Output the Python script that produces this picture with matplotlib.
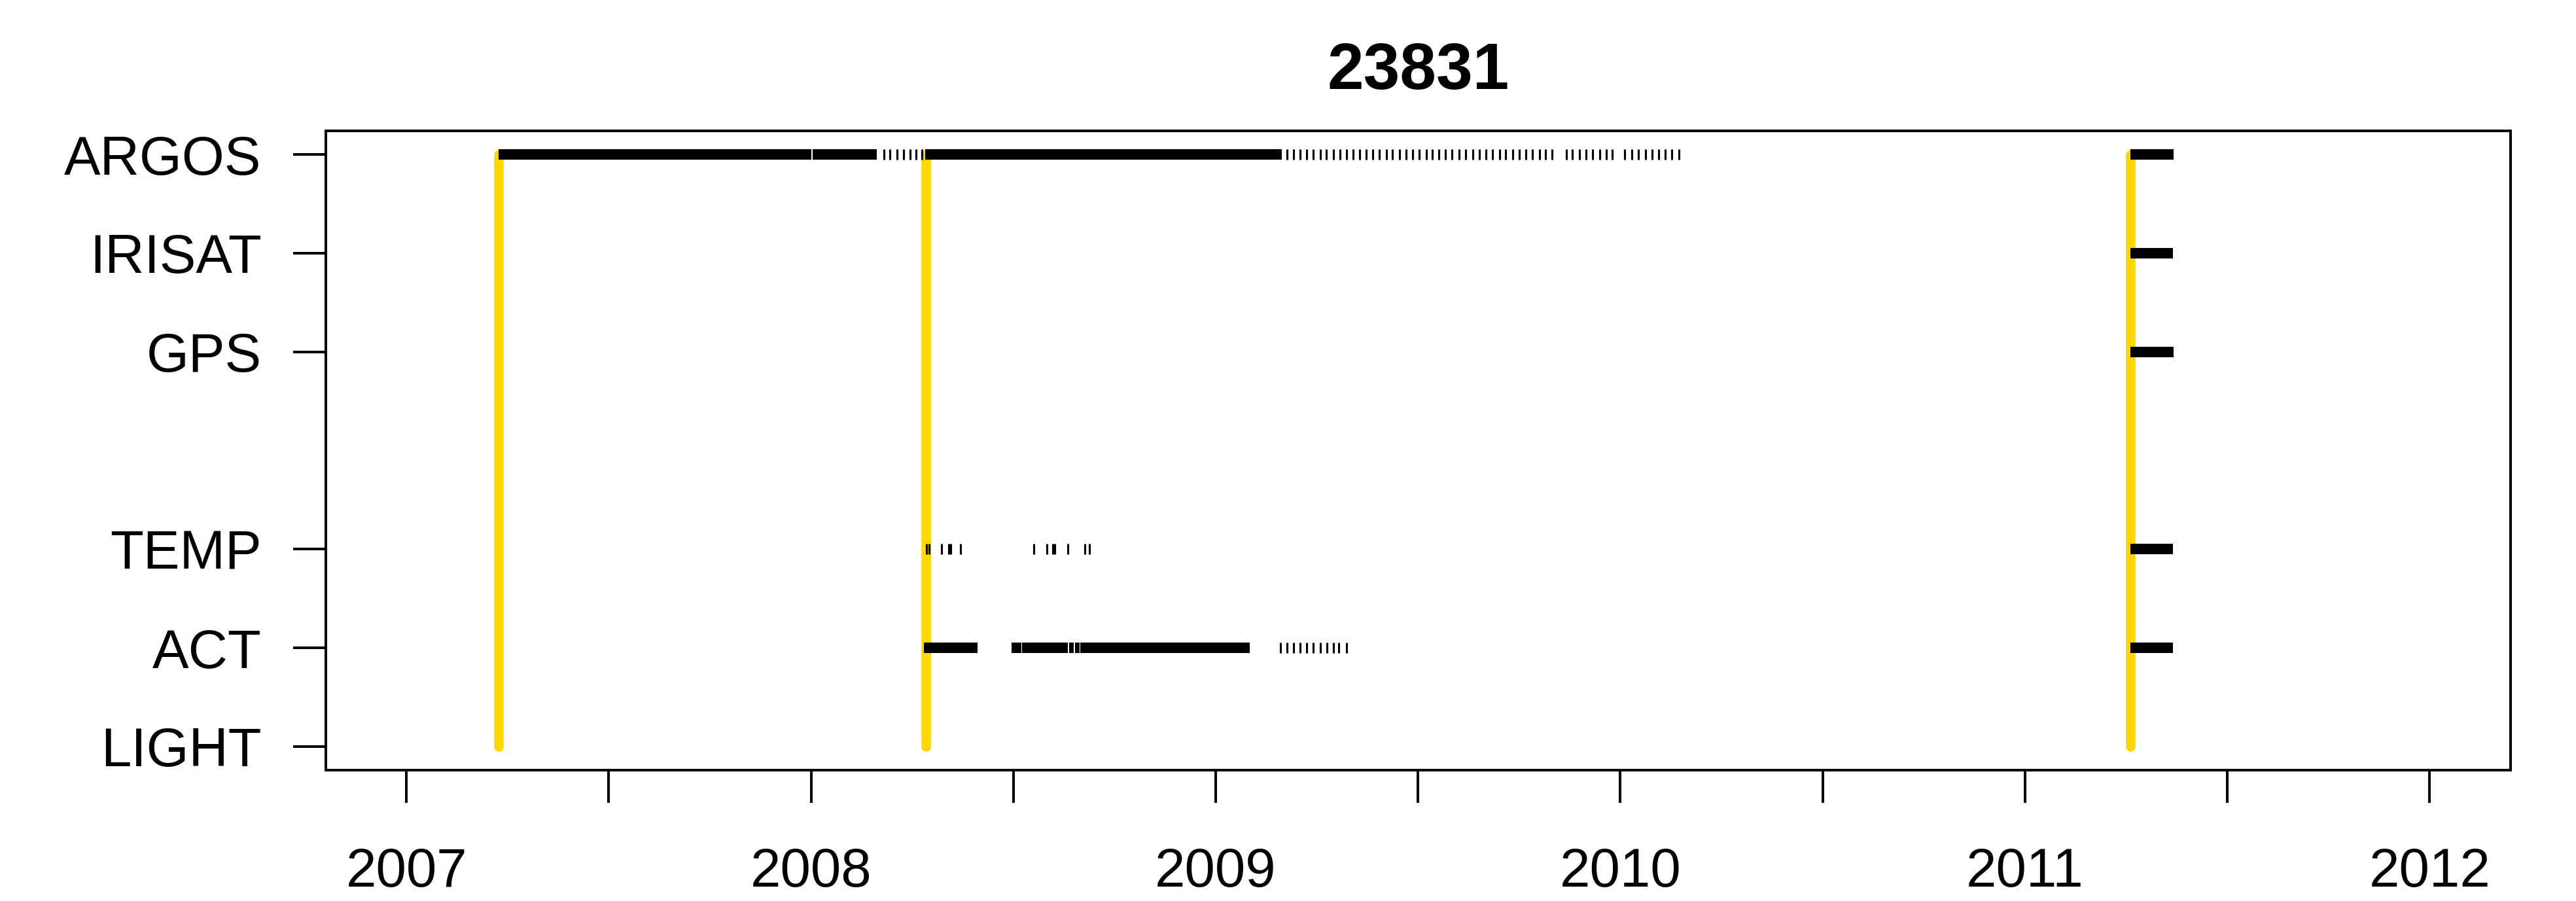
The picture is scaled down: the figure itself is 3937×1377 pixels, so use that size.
import numpy as np
import matplotlib.pyplot as plt
from matplotlib.ticker import MultipleLocator

plt.rcParams["font.family"] = ["Liberation Sans", "DejaVu Sans"]

TITLE = "23831"
YEARS = [2007, 2008, 2009, 2010, 2011, 2012]

# sensor rows, bottom to top (row 4 is left empty)
CATEGORIES = ["LIGHT", "ACT", "TEMP", "GPS", "IRISAT", "ARGOS"]
ROWS = [1, 2, 3, 5, 6, 7]

# deployment dates (decimal years)
deploy_dates = [2007.228, 2008.283, 2011.261]

# continuous coverage (start, end) and single transmissions, per sensor
argos_spans = [(2007.228, 2008.001), (2008.004, 2008.163),
               (2008.282, 2009.163), (2011.261, 2011.368)]
argos_fixes = [2008.180, 2008.195, 2008.212, 2008.228, 2008.245, 2008.260, 2008.274,
               2009.176, 2009.193, 2009.208, 2009.225, 2009.241, 2009.258, 2009.274,
               2009.291, 2009.307, 2009.324, 2009.339, 2009.356, 2009.372, 2009.388,
               2009.404, 2009.422, 2009.437, 2009.455, 2009.470, 2009.487, 2009.503,
               2009.520, 2009.535, 2009.552, 2009.568, 2009.584, 2009.601, 2009.617,
               2009.635, 2009.651, 2009.668, 2009.684, 2009.701, 2009.717, 2009.734,
               2009.750, 2009.767, 2009.783, 2009.800, 2009.815, 2009.831,
               2009.867, 2009.882, 2009.899, 2009.915, 2009.932, 2009.949, 2009.965,
               2009.980,
               2010.011, 2010.029, 2010.045, 2010.062, 2010.078, 2010.095, 2010.111,
               2010.127, 2010.145]
irisat_spans = [(2011.261, 2011.366)]
gps_spans = [(2011.261, 2011.368)]
temp_spans = [(2011.261, 2011.366)]
temp_fixes = [2008.286, 2008.292, 2008.322, 2008.341, 2008.345, 2008.369,
              2008.551, 2008.582, 2008.598, 2008.602, 2008.635, 2008.677, 2008.688]
act_spans = [(2008.279, 2008.412), (2008.496, 2008.519), (2008.522, 2008.635),
             (2008.638, 2008.649), (2008.652, 2008.663), (2008.666, 2009.084),
             (2011.261, 2011.366)]
act_fixes = [2009.160, 2009.176, 2009.193, 2009.208, 2009.225, 2009.241,
             2009.258, 2009.275, 2009.291, 2009.304, 2009.324]

SENSOR_DATA = {
    "ARGOS": (argos_spans, argos_fixes),
    "IRISAT": (irisat_spans, []),
    "GPS": (gps_spans, []),
    "TEMP": (temp_spans, temp_fixes),
    "ACT": (act_spans, act_fixes),
    "LIGHT": ([], []),
}

BAR_LW = 3.85      # points, height of the coverage bars
AXIS_LW = 0.96

fig = plt.figure(figsize=(3937 / 300, 1377 / 300), dpi=300)
ax = fig.add_axes([497.5 / 3937, 1 - 1177 / 1377,
                   (3837 - 497.5) / 3937, (1177 - 200) / 1377])

row_of = dict(zip(CATEGORIES, ROWS))

ax.vlines(deploy_dates, row_of["LIGHT"], row_of["ARGOS"], color="#FFD700",
          linewidth=3.5, capstyle="round", zorder=2)

for name, (spans, fixes) in SENSOR_DATA.items():
    y = row_of[name]
    if spans:
        starts = [s for s, _ in spans]
        ends = [e for _, e in spans]
        ax.hlines([y] * len(spans), starts, ends, color="black",
                  linewidth=BAR_LW, capstyle="butt", zorder=3)
    if fixes:
        ax.plot(fixes, [y] * len(fixes), linestyle="none", marker="|",
                markersize=BAR_LW, markeredgewidth=0.75, color="black", zorder=3)

ax.set_xlim(2006.8, 2012.2)
ax.set_ylim(0.76, 7.24)

ax.set_xticks(YEARS)
ax.set_xticklabels([str(y) for y in YEARS])
ax.xaxis.set_minor_locator(MultipleLocator(0.5))
ax.set_yticks(ROWS)
ax.set_yticklabels(CATEGORIES)

for spine in ax.spines.values():
    spine.set_linewidth(AXIS_LW)
ax.tick_params(axis="both", which="both", direction="out", length=12,
               width=AXIS_LW, labelsize=20)
ax.tick_params(axis="x", which="both", pad=16)
ax.tick_params(axis="y", pad=11.5)

ax.set_title(TITLE, fontsize=24, fontweight="bold", pad=15.4)

fig.savefig("out.png", dpi=300)
